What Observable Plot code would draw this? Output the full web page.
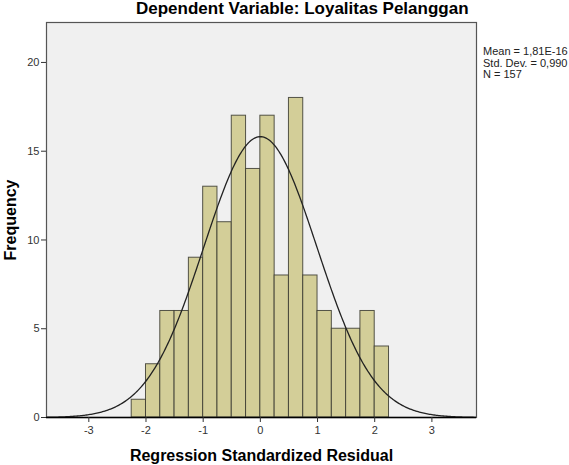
<!DOCTYPE html>
<html>
<head>
<meta charset="utf-8">
<script src="https://cdn.jsdelivr.net/npm/d3@7"></script>
<script src="https://cdn.jsdelivr.net/npm/@observablehq/plot@0.6"></script>
<style>
  html, body { margin: 0; padding: 0; background: #ffffff; }
  #chart { position: relative; width: 569px; height: 465px; font-family: "Liberation Sans", Arial, sans-serif; }
  #chart svg { position: absolute; left: 0; top: 0; overflow: visible; }
  .title { position: absolute; left: 136px; top: -1px; font-size: 17px; font-weight: bold; color: #000; white-space: nowrap; }
  .stats { position: absolute; left: 483px; top: 46px; font-size: 11px; line-height: 11.5px; color: #222; white-space: nowrap; }
</style>
</head>
<body>
<div id="chart">
  <div class="title">Dependent Variable: Loyalitas Pelanggan</div>
</div>
<script>
const binStarts = [-2.25, -2.0, -1.75, -1.5, -1.25, -1.0, -0.75, -0.5, -0.25, 0.0, 0.25, 0.5, 0.75, 1.0, 1.25, 1.5, 1.75, 2.0];
const counts    = [1, 3, 6, 6, 9, 13, 11, 17, 14, 17, 8, 18, 8, 6, 5, 5, 6, 4];
const binWidth = 0.25;
const xTicks = [-3, -2, -1, 0, 1, 2, 3];
const yTicks = [0, 5, 10, 15, 20];
const statLines = ["Mean = 1,81E-16", "Std. Dev. = 0,990", "N = 157"];
const mean = 1.81e-16, sd = 0.990, n = 157;

const bars = binStarts.map((b, i) => ({x1: b, x2: b + binWidth, y: counts[i]}));
const xDomain = [-3.74, 3.78];
const curve = d3.range(xDomain[0], xDomain[1] + 0.001, 0.02).map(x => ({
  x, y: n * binWidth * Math.exp(-0.5 * ((x - mean) / sd) ** 2) / (sd * Math.sqrt(2 * Math.PI))
}));

const chart = Plot.plot({
  width: 569,
  height: 465,
  marginLeft: 46,
  marginRight: 93,
  marginTop: 22,
  marginBottom: 48,
  style: {fontFamily: "Liberation Sans, Arial, sans-serif", background: "transparent", overflow: "visible"},
  x: {domain: xDomain, ticks: xTicks},
  y: {domain: [0, 22.25], ticks: yTicks},
  marks: [
    Plot.frame({fill: "#f0f0f0", stroke: "none"}),
    Plot.rectY(bars, {x1: "x1", x2: "x2", y: "y", fill: "#d3ce98", stroke: "#3a3a30", strokeWidth: 1, strokeOpacity: 0.85}),
    Plot.line(curve, {x: "x", y: "y", stroke: "#222", strokeWidth: 1.3, clip: true}),
    Plot.frame({stroke: "#555", strokeWidth: 1.2}),
    Plot.ruleY([0], {stroke: "#000", strokeWidth: 1.5}),
    Plot.axisX({ticks: xTicks, tickSize: 5, tickPadding: 4, fontSize: 11, color: "#333", label: null, tickFormat: d => d < 0 ? "-" + Math.abs(d) : String(d)}),
    Plot.axisY({ticks: yTicks, tickSize: 5, tickPadding: 2, fontSize: 11, color: "#333", label: null}),
    Plot.text(["Regression Standardized Residual"], {frameAnchor: "bottom", dy: 43, fontSize: 16, fontWeight: "bold", fill: "#000"}),
    Plot.text(["Frequency"], {frameAnchor: "left", dx: -36, rotate: -90, textAnchor: "middle", fontSize: 16, fontWeight: "bold", fill: "#000"})
  ]
});
document.getElementById("chart").appendChild(chart);

const stats = document.createElement("div");
stats.className = "stats";
stats.innerHTML = statLines.join("<br>");
document.getElementById("chart").appendChild(stats);
</script>
</body>
</html>
